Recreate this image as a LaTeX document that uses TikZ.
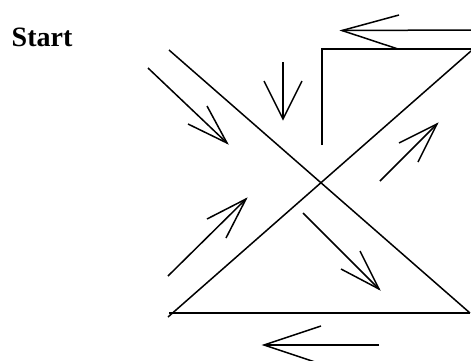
\documentclass[tikz,border=0pt]{standalone}
\usepackage{fontspec}
\setmainfont{Liberation Serif}
\begin{document}
\begin{tikzpicture}[x=1pt,y=-1pt,
  ln/.style={line width=1.5pt,line cap=butt,line join=miter},
  arr/.style={line width=1.5pt,line join=miter}]
\useasboundingbox (0,0) rectangle (471,360);
\clip (0,0) rectangle (471,360);
\node[font=\bfseries\fontsize{28}{30}\selectfont,anchor=base west,inner sep=0pt] (start) at (11.5,46.7) {Start};
% main lines
\coordinate (d1a) at (169,50);  \coordinate (d1b) at (470,313);
\coordinate (d2a) at (168,317); \coordinate (d2b) at (471,51);
\coordinate (ba) at (169,313);  \coordinate (bb) at (470,313);
\coordinate (hl) at (322,49);   \coordinate (hr) at (471,49);
\coordinate (vb) at (322,145);
\draw[ln] (d1a) -- (d1b);
\draw[ln] (d2a) -- (d2b);
\draw[ln] (ba) -- (bb);
\draw[ln] (vb) -- (hl) -- (hr);
% arrows: shaft start, tip, barbs
\newcommand{\myarrow}[5]{%
  \coordinate (#1s) at #2; \coordinate (#1t) at #3;
  \coordinate (#1p) at #4; \coordinate (#1q) at #5;
  \draw[arr] (#1s) -- (#1t);
  \draw[arr] (#1p) -- (#1t) -- (#1q);}
\myarrow{a}{(471,30)}{(342,30.5)}{(399,15)}{(398,49)}
\myarrow{b}{(283,62)}{(283,119)}{(264,81)}{(302,81)}
\myarrow{c}{(148,68)}{(227,143)}{(188,124)}{(207,106)}
\myarrow{d}{(168,276)}{(246,199)}{(207,219)}{(226,238)}
\myarrow{e}{(303,213)}{(379,289)}{(341,269)}{(360,251)}
\myarrow{f}{(379,345)}{(264,345)}{(321,326)}{(321,364)}
\myarrow{g}{(380,181)}{(437,124)}{(399,143)}{(418,162)}
\end{tikzpicture}
\end{document}
